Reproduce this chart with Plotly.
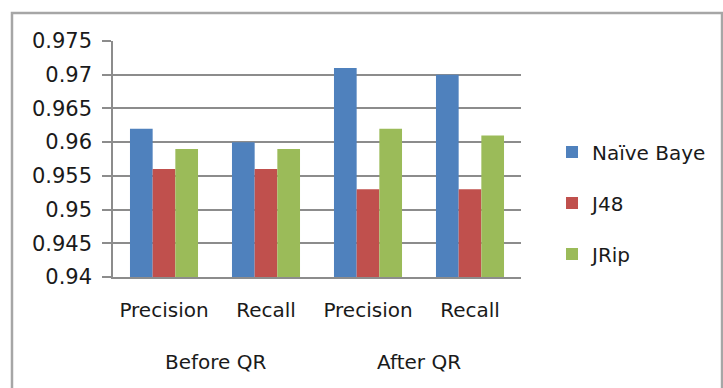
import plotly.graph_objects as go

# Evaluation measures grouped by phase
phases = ["Before QR", "After QR"]
measures = ["Precision", "Recall", "Precision", "Recall"]
category_keys = ["Before QR|Precision", "Before QR|Recall", "After QR|Precision", "After QR|Recall"]

naive_bayes = [0.962, 0.960, 0.971, 0.970]
j48 = [0.956, 0.956, 0.953, 0.953]
jrip = [0.959, 0.959, 0.962, 0.961]

series_names = ["Naïve Baye", "J48", "JRip"]
series_values = [naive_bayes, j48, jrip]
series_colors = ["#4F81BD", "#C0504D", "#9BBB59"]

y_ticks = [0.94, 0.945, 0.95, 0.955, 0.96, 0.965, 0.97, 0.975]
y_tick_text = ["0.94", "0.945", "0.95", "0.955", "0.96", "0.965", "0.97", "0.975"]

W, H = 723, 388
ML, MR, MT, MB = 113, 198, 41, 111
FONT = "DejaVu Sans"
TXT = "#1a1a1a"

fig = go.Figure()
for i, (name, vals, col) in enumerate(zip(series_names, series_values, series_colors)):
    fig.add_trace(go.Bar(
        x=category_keys, y=vals, name=name,
        marker=dict(color=col, line=dict(width=0)),
        legendgroup=f"g{i}",
    ))

plot_w = W - ML - MR
plot_h = H - MT - MB

# outer chart frame, in paper units relative to the plot area
x0 = (11 - ML) / plot_w
y1 = (H - MB - 13) / plot_h
x1 = (W + 5 - ML) / plot_w
y0 = (H - MB - H - 5) / plot_h
fig.add_shape(type="rect", xref="paper", yref="paper", x0=x0, x1=x1, y0=y0, y1=y1,
              line=dict(color="#A6A6A6", width=2.5), fillcolor="rgba(0,0,0,0)", layer="below")

# phase labels centred under each pair of measures
for gi, phase in enumerate(phases):
    fig.add_annotation(x=2 * gi + 0.5, xref="x", y=-(362 - (H - MB)) / plot_h, yref="paper",
                       text=phase, showarrow=False, yanchor="middle",
                       font=dict(family=FONT, size=20, color=TXT))

fig.update_layout(
    width=W, height=H,
    margin=dict(l=ML, r=MR, t=MT, b=MB, pad=0),
    paper_bgcolor="white", plot_bgcolor="white",
    font=dict(family=FONT, size=20, color=TXT),
    barmode="group", bargap=0.333, bargroupgap=0,
    showlegend=True,
    legend=dict(x=1.076, y=0.314, xanchor="left", yanchor="middle",
                font=dict(family=FONT, size=20, color=TXT),
                tracegroupgap=22, itemwidth=30, bgcolor="rgba(0,0,0,0)"),
    xaxis=dict(type="category", tickvals=category_keys, ticktext=measures,
               showline=True, linecolor="#8C8C8C", linewidth=1.5, ticks="",
               showgrid=False, ticklabelstandoff=14,
               tickfont=dict(family=FONT, size=20, color=TXT)),
    yaxis=dict(range=[0.94, 0.975], tickvals=y_ticks, ticktext=y_tick_text,
               showgrid=True, gridcolor="#8C8C8C", gridwidth=1.5,
               showline=True, linecolor="#8C8C8C", linewidth=1.5,
               ticks="outside", ticklen=9, tickcolor="#8C8C8C", tickwidth=1.5,
               ticklabelstandoff=6, zeroline=False,
               tickfont=dict(family=FONT, size=21, color=TXT)),
)

fig.write_html("out.html")
